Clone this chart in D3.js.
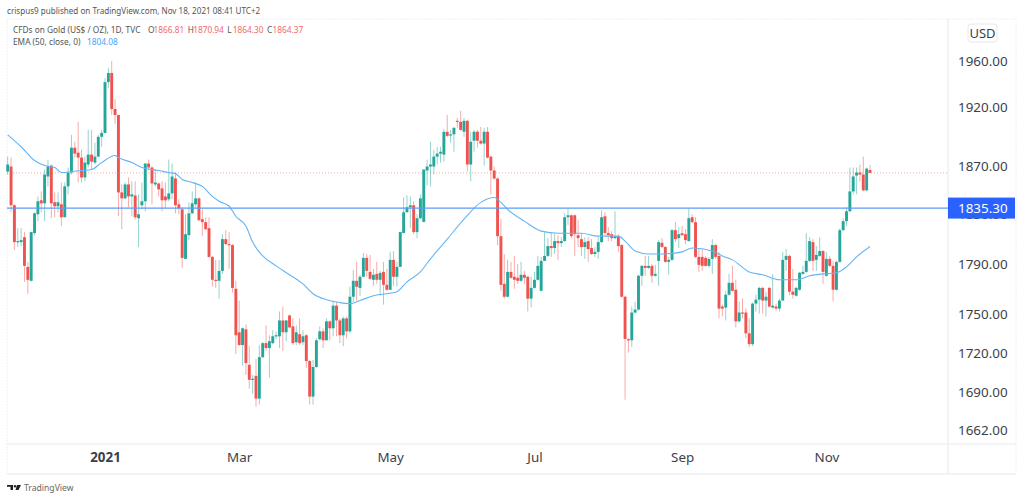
<!DOCTYPE html>
<html>
<head>
<meta charset="utf-8">
<style>
  body { margin: 0; background: #fff; }
  text { font-family: "Noto Sans", sans-serif; }
  .y-axis text, .x-axis text { fill: #3b3f4a; }
</style>
<script src="https://cdnjs.cloudflare.com/ajax/libs/d3/7.8.5/d3.min.js"></script>
</head>
<body>
<div id="container"></div>
<script>
// daily candles, one line = ten bars
var opens = [
  1865.5,1869.7,1837.6,1807.6,1807.6,1811.6,1787.7,1776.6,1814.9,1830.2,
  1841.7,1839.2,1861.4,1870.5,1840.1,1836.8,1838.4,1827.8,1853.2,1864.7,
  1885.5,1881.3,1877.2,1860.6,1871.4,1879.7,1873,1878,1894.7,1898,
  1941.6,1949.5,1918.4,1913.3,1848.2,1843.3,1854.8,1844.9,1845.7,1827,
  1837.6,1840.9,1872.2,1868.9,1854.8,1855.6,1851.5,1844.9,1842.5,1847.4,
  1859.7,1838.4,1834.3,1794.1,1813.2,1831,1838.4,1843.3,1826.2,1823.8,
  1818.9,1795.7,1777.4,1776.6,1784.5,1810,1806,1805.2,1770.3,1736.2,
  1726.3,1738.5,1711.1,1699.7,1702.7,1685.5,1717,1727.8,1724,1727.8,
  1733.1,1733.1,1745.4,1736.2,1749.3,1740.8,1728.5,1734.7,1728.5,1733.9,
  1714,1687,1709.5,1730.8,1736.9,1730,1744.7,1739.3,1757,1745.4,
  1733.9,1747,1736.9,1764,1776.6,1771,1779.8,1794.9,1783.7,1777.4,
  1782.1,1777.4,1783.7,1773.4,1769.5,1793.3,1779.8,1787.7,1815,1831.9,
  1836,1837.6,1815.7,1827,1824,1866.4,1869.7,1869.7,1878,1880.5,
  1879.7,1898.9,1896,1896.8,1908.3,1907.4,1899,1908.3,1871.4,1891.4,
  1899,1891.4,1889,1899,1878,1866.4,1859.7,1812.4,1774.2,1764,
  1783.7,1779.8,1779,1776.6,1781.4,1779.8,1762.5,1771,1777.4,1768.7,
  1792.5,1796.5,1804.4,1802.8,1808.4,1806.8,1808.4,1827.8,1829.4,1829.4,
  1813.2,1810,1803.6,1808.4,1802.8,1798,1799.7,1807.6,1828.6,1815,
  1814,1810.8,1812.4,1805.2,1764,1730.8,1730,1751.6,1753.9,1780.6,
  1788.5,1786.9,1788.5,1780.6,1792.5,1807,1803.6,1791.7,1793.3,1817.3,
  1810.8,1814.8,1814,1808.4,1827.8,1823.8,1795.7,1795.7,1794.9,1788.5,
  1794.1,1805.2,1796.5,1756.3,1755.5,1765.6,1775,1769.5,1744.7,1751.6,
  1751.6,1735.4,1727,1758.6,1761.7,1771,1761,1771,1755.5,1756.3,
  1754.7,1761,1793.3,1796.5,1768,1764.8,1769.5,1782.1,1783.7,1792.5,
  1807.6,1793.3,1796.5,1800.4,1780.6,1794.1,1788.5,1769.5,1791.7,1817.3,
  1824.6,1832.7,1849,1862.2,1864.7,1863,1849.9,1866.81
];
var highs = [
  1878,1877.2,1838.4,1818.9,1818.9,1815.7,1791.7,1816,1831.9,1844.9,
  1849,1867.2,1875.5,1871.4,1848.2,1848.2,1856.4,1856.4,1868.9,1896.4,
  1890.5,1907.4,1883.8,1878,1900.6,1900.6,1889.7,1896.4,1900.6,1945,
  1954,1960,1927,1913.5,1854.8,1856.4,1860.6,1857.3,1857.3,1846.6,
  1856.4,1872.5,1875.5,1869.7,1867.2,1856.4,1857.3,1856.4,1875.5,1872.2,
  1864.7,1842.5,1836,1830.2,1840,1849,1856.4,1844.1,1834.3,1827.8,
  1827.8,1796.5,1793.3,1793.3,1814,1817.3,1815.7,1806,1776.6,1760.9,
  1740,1742.4,1725.5,1703.5,1715.6,1726.3,1728.5,1741.6,1733.9,1737.8,
  1737,1752.4,1756.3,1745.8,1750,1747,1741.6,1747,1737.8,1734.7,
  1714.8,1714.8,1731.6,1740.8,1739.3,1747,1745.4,1760.9,1760.1,1747,
  1748.5,1748.5,1771.9,1785.3,1791.7,1781.4,1798.9,1798,1797.3,1786.1,
  1791.7,1784.5,1791.7,1786.1,1799.7,1800.4,1791.7,1816,1844,1845.7,
  1844.9,1840.9,1830.2,1846.6,1867.5,1875.5,1890.5,1883.8,1886.3,1886.3,
  1901.4,1913.3,1900.6,1903,1910.8,1916.8,1910.8,1909.1,1899,1900.6,
  1900.6,1903,1902.3,1903,1878.9,1869.7,1860.6,1826.2,1798,1793.3,
  1791.7,1796.5,1790,1791.7,1784.5,1780.6,1779.8,1783.7,1796.5,1795.7,
  1815.7,1810.8,1815.7,1814,1813.2,1811.6,1831,1835.1,1830.2,1830.2,
  1825.4,1814.8,1811.6,1811.6,1810,1803.6,1811.6,1833.5,1831.9,1819.7,
  1816.5,1832.7,1814,1806,1764.8,1731.6,1756.3,1760.1,1781.4,1789.3,
  1796.5,1796.5,1790,1789.3,1809.2,1810.8,1804.4,1795.7,1818.1,1823.8,
  1819.7,1820.6,1818.1,1835.1,1830.2,1827.8,1802.8,1802,1796.5,1795.7,
  1810,1806,1799.7,1757.8,1768.7,1782.1,1788.5,1777.4,1760.1,1762.5,
  1754.7,1747,1759.4,1765.6,1771.9,1771.9,1768,1771.9,1782,1758.6,
  1762.5,1799.7,1802,1797.3,1786.1,1771.9,1783.7,1788.5,1814.8,1811.6,
  1810,1804.4,1811.6,1801.2,1799.7,1796.5,1792.5,1792.5,1818.9,1827,
  1836,1868.9,1868.9,1868.9,1871.4,1878,1868.9,1870.94
];
var lows = [
  1863,1831.9,1801.2,1803.6,1804.4,1775.8,1766.4,1776,1813.2,1824.6,
  1831.9,1824.6,1853.2,1827,1827.8,1831.9,1820.6,1827.8,1846.6,1863,
  1877.2,1856.4,1856.4,1857.3,1868.9,1867.2,1871.4,1877.5,1886.3,1897.5,
  1936.5,1913.3,1905.7,1828.6,1818.1,1842.5,1836,1828.6,1826.2,1803.6,
  1834.3,1832.7,1867.2,1838.4,1853.2,1844.9,1832.7,1835.1,1840.9,1842.5,
  1831,1830.2,1786.9,1794,1809.2,1830.7,1836,1824.6,1812.4,1817.3,
  1794.9,1772,1771,1762.5,1782.1,1805.2,1786.1,1767.2,1719.3,1726,
  1710.3,1703.5,1693,1689.2,1679.5,1681,1716.3,1721.7,1701.2,1727,
  1730.8,1724,1721.7,1729.3,1739.3,1726.3,1726.3,1726.3,1726.3,1708.8,
  1681,1681,1708.8,1730,1724,1729.8,1730,1733.1,1733.1,1727.8,
  1725.5,1731.6,1735.4,1760.1,1761,1764.8,1779.5,1779.8,1777.4,1772.6,
  1774.2,1764.8,1757.8,1768.7,1769.3,1772.6,1771.9,1787.5,1814.5,1831.5,
  1818.9,1814,1810.8,1826.2,1823.5,1854,1853,1863,1871.4,1873,
  1873.8,1894.7,1889.7,1882.1,1902.3,1899.8,1894.7,1865.5,1857.3,1882.1,
  1885.5,1888.2,1870.5,1876.3,1846.6,1858.9,1805.2,1768.7,1762.5,1763.3,
  1778.2,1770.3,1774.2,1775.8,1774.2,1752.4,1755.5,1770.3,1776.6,1768.5,
  1792.3,1795.7,1795.7,1798,1793.3,1803.6,1808,1821.4,1810.8,1796.5,
  1803.6,1796.5,1794.1,1791.7,1797.3,1795.7,1794.1,1806.8,1813.2,1808.4,
  1808.4,1810,1799.7,1763.3,1684.7,1720.4,1724.8,1750.8,1753,1772.6,
  1780.6,1786.1,1775,1779.8,1772.6,1803,1791,1781.4,1792.5,1807.6,
  1802.8,1812.4,1806,1808,1823,1794.9,1783.7,1784.5,1787.7,1786.9,
  1782.1,1794.1,1747,1748.5,1745.4,1764.8,1767.9,1740,1743.9,1747,
  1731.6,1724.8,1725.5,1752.4,1750.8,1750.8,1748.5,1755.5,1754.7,1753,
  1752.4,1760.8,1784.5,1765,1762.5,1764,1768.7,1781.4,1783,1791.7,
  1784.5,1784.5,1795.7,1774.2,1779.8,1787.7,1760.1,1768.7,1791,1816.5,
  1820.6,1831.9,1846.6,1846.6,1857.3,1849,1849,1864.3
];
var closes = [
  1871.4,1837.6,1807.6,1808.4,1809.2,1788.5,1777.4,1815.7,1831,1840.9,
  1839.2,1863,1869.7,1839.2,1836.8,1840.1,1827.8,1853.2,1864.7,1885.5,
  1880.5,1877.2,1860.6,1873,1879.7,1873.8,1878,1894.7,1898,1941.6,
  1949.5,1918.4,1913.3,1848.2,1843.3,1854.8,1844.9,1846.6,1827.8,1830.2,
  1840.9,1872.2,1868.9,1855.6,1856.4,1850.7,1841.7,1841.7,1847.4,1861.4,
  1837.6,1835.1,1794.9,1814,1831,1839.2,1843.3,1825.4,1823.8,1818.1,
  1795.7,1777.4,1776.6,1784.5,1810,1806,1805.2,1771,1733.9,1726.3,
  1739.3,1712.5,1699.7,1700.5,1685.5,1717,1727.8,1724,1729.3,1733.1,
  1733.9,1745.4,1736.2,1745.4,1740,1727.8,1736.2,1727.8,1733.1,1714,
  1687,1709.5,1730,1736.9,1730,1744.7,1739.3,1757,1745.4,1733.9,
  1747,1736.9,1764,1776.6,1771.9,1779.8,1794.9,1784.5,1778.2,1781.4,
  1777.4,1782.9,1773.4,1769.5,1793.3,1779.8,1787.7,1815.7,1831.9,1836,
  1837.6,1815.7,1827,1843.3,1867.2,1869.7,1871.4,1878,1880.5,1882.1,
  1898.9,1895.5,1896.8,1902.3,1907.4,1900.6,1908.3,1871.4,1890.5,1899,
  1891.4,1889,1899,1877.2,1866.4,1859.7,1812.4,1773.4,1764,1783.7,
  1779,1777.4,1776.6,1781.4,1779,1762.5,1771,1777.4,1788.5,1792.5,
  1796.5,1804.4,1802.8,1808.4,1806.8,1808.4,1827.8,1829.4,1812.4,1814,
  1810.8,1803.6,1807.6,1802,1798,1799.7,1807.6,1827.8,1815,1813.2,
  1810.8,1812.4,1804.4,1764,1731,1730,1751.6,1753.9,1780.6,1788.5,
  1786.9,1788.5,1780.6,1782.1,1807.6,1803.6,1791.7,1793.3,1817.3,1810,
  1814,1813.2,1809.2,1827,1823.8,1795.7,1789.3,1788.5,1788.5,1794.1,
  1805.2,1795.7,1754.7,1754.7,1765.6,1775,1768.7,1744.7,1751.6,1750.8,
  1735.4,1727,1758.6,1761.7,1771,1761,1764,1756.3,1757,1754.7,
  1761,1793.3,1796.5,1768,1765.6,1771,1783,1783.7,1792.5,1808.4,
  1792.5,1797.3,1800.4,1783.7,1794.1,1788.5,1769.5,1791.7,1817.3,1824.6,
  1832.7,1849,1861.4,1864.7,1863,1849.9,1868,1864.37
];

// EMA line, sampled where it was readable
var emaBars = [0,4,8,11,14,16,19,22,25,28,32,33,37,40,45,48,50,52,55,58,61,63,66,68,71,73,76,80,84,88,91,95,99,102,105,109,116,119,123,126,131,136,141,145,147,149,154,159,164,171,176,182,184,187,191,196,201,204,210,213,216,221,225,230,235,239,243,247,250,253,257];
var emaValues = [1896.4,1886.3,1874.7,1870.5,1868.9,1864.7,1865.5,1866.4,1867.2,1873,1878.9,1877.2,1873,1868.9,1866.4,1864.7,1863.8,1858.9,1856.4,1853.2,1844.9,1840.9,1836.8,1828.6,1820.6,1807.6,1796.5,1788.5,1781.4,1774.2,1766.4,1761.7,1759.4,1758.6,1761,1764.8,1768,1775.8,1783.7,1794.1,1810,1826.2,1840,1844,1840,1834.3,1824.6,1816.5,1814.8,1814.8,1812.4,1812.4,1808.4,1800.4,1798,1798,1799.7,1802.8,1800.4,1796.5,1793.3,1783.7,1781.4,1777.4,1777.4,1780.6,1782.1,1783,1787.7,1795.7,1804.08];

var priceTicks = [1960, 1920, 1870, 1830, 1790, 1750, 1720, 1690, 1662];
var timeTickBars = [29, 69, 114, 157, 201, 244];
var timeTickLabels = ["2021", "Mar", "May", "Jul", "Sep", "Nov"];
var lineLevel = 1835.30;
var lastClose = 1864.37;

var legendNames = ["O", "H", "L", "C"];
var legendValues = [1866.81, 1870.94, 1864.30, 1864.37];

var frame = {left: 7, top: 19, right: 948, bottom: 444, outerRight: 1016, outerBottom: 474};
var upColor = "#26a69a", downColor = "#ef5350", emaColor = "#64b5f6";
var captionSize = "8.3px", captionColor = "#555";

var svg = d3.select("#container")
    .append("svg")
    .attr("width", 1024)
    .attr("height", 500)
    .style("display", "block");

var x = d3.scaleLinear().domain([0, opens.length - 1]).range([7.7, 870]);
var y = d3.scaleLog().domain([1960, 1662]).range([61, 430]);

// frame
var frameColor = "#eef0f5";
svg.append("rect")
    .attr("x", frame.left).attr("y", frame.top)
    .attr("width", frame.outerRight - frame.left)
    .attr("height", frame.outerBottom - frame.top)
    .attr("fill", "none").attr("stroke", frameColor).attr("stroke-dasharray", "2,1");
[[frame.right, frame.top, frame.right, frame.outerBottom],
 [frame.left, frame.bottom, frame.outerRight, frame.bottom],
 [frame.left, frame.outerBottom, frame.outerRight, frame.outerBottom]].forEach(function(l) {
    svg.append("line")
        .attr("x1", l[0]).attr("y1", l[1]).attr("x2", l[2]).attr("y2", l[3])
        .attr("stroke", frameColor).attr("stroke-width", 1.5);
});

// last price dotted line
svg.append("line")
    .attr("x1", frame.left).attr("x2", frame.right)
    .attr("y1", y(lastClose)).attr("y2", y(lastClose))
    .attr("stroke", "#ef5350").attr("stroke-opacity", 0.5)
    .attr("stroke-dasharray", "1,2");

// candles
var bars = svg.append("g").selectAll("g")
    .data(d3.range(opens.length))
    .enter()
    .append("g");

bars.append("line")
    .attr("x1", function(i) { return x(i); })
    .attr("x2", function(i) { return x(i); })
    .attr("y1", function(i) { return y(highs[i]); })
    .attr("y2", function(i) { return y(lows[i]); })
    .attr("stroke", function(i) { return closes[i] >= opens[i] ? upColor : downColor; })
    .attr("stroke-opacity", 0.55)
    .attr("stroke-width", 0.9);

bars.append("rect")
    .attr("x", function(i) { return x(i) - 1.45; })
    .attr("width", 2.9)
    .attr("y", function(i) { return y(Math.max(opens[i], closes[i])); })
    .attr("height", function(i) { return Math.max(1.2, Math.abs(y(opens[i]) - y(closes[i]))); })
    .attr("fill", function(i) { return closes[i] >= opens[i] ? upColor : downColor; });

// EMA
var emaLine = d3.line()
    .x(function(d) { return x(d); })
    .y(function(d, i) { return y(emaValues[i]); })
    .curve(d3.curveMonotoneX);

svg.append("path")
    .attr("d", emaLine(emaBars))
    .attr("fill", "none")
    .attr("stroke", emaColor)
    .attr("stroke-width", 1.1);

// horizontal level
svg.append("line")
    .attr("x1", frame.left).attr("x2", frame.right)
    .attr("y1", y(lineLevel)).attr("y2", y(lineLevel))
    .attr("stroke", "#5b9cf6").attr("stroke-width", 1.2);

// axes
var yAxis = d3.axisRight(y)
    .tickValues(priceTicks)
    .tickSize(0)
    .tickPadding(0)
    .tickFormat(d3.format(".2f"));

svg.append("g")
    .attr("class", "y-axis")
    .attr("transform", "translate(958,0)")
    .call(yAxis)
    .call(function(g) { g.select(".domain").remove(); })
    .selectAll("text")
    .style("font-size", "13.4px");

var xAxis = d3.axisBottom(x)
    .tickValues(timeTickBars)
    .tickSize(0)
    .tickPadding(0)
    .tickFormat(function(d, i) { return timeTickLabels[i]; });

svg.append("g")
    .attr("class", "x-axis")
    .attr("transform", "translate(0,452)")
    .call(xAxis)
    .call(function(g) { g.select(".domain").remove(); })
    .selectAll("text")
    .style("font-size", "13.4px")
    .style("font-weight", function(d, i) { return i === 0 ? "700" : "400"; });

// level label on the axis
svg.append("rect")
    .attr("x", frame.right).attr("y", y(lineLevel) - 10.5)
    .attr("width", 67).attr("height", 21)
    .attr("fill", "#2962ff");
svg.append("text")
    .attr("x", 958).attr("y", y(lineLevel) + 4.7)
    .attr("fill", "#fff")
    .style("font-size", "13.4px")
    .text(d3.format(".2f")(lineLevel));

// currency button
svg.append("rect")
    .attr("x", 968).attr("y", 24).attr("width", 29).attr("height", 18).attr("rx", 3)
    .attr("fill", "#fff").attr("stroke", "#e6e8ee");
svg.append("text")
    .attr("x", 982.5).attr("y", 37.5)
    .attr("text-anchor", "middle")
    .attr("fill", "#3b3f4a")
    .style("font-size", "13px")
    .text("USD");

// captions
svg.append("text")
    .attr("x", 7).attr("y", 14)
    .attr("fill", captionColor)
    .style("font-size", "8.1px")
    .text("crispus9 published on TradingView.com, Nov 18, 2021 08:41 UTC+2");

svg.append("text")
    .attr("x", 13).attr("y", 33)
    .attr("fill", captionColor)
    .style("font-size", captionSize)
    .text("CFDs on Gold (US$ / OZ), 1D, TVC");

var legendX = d3.scaleLinear().domain([0, 3]).range([148, 267]);

legendNames.forEach(function(n, i) {
    svg.append("text")
        .attr("x", legendX(i)).attr("y", 33)
        .attr("fill", captionColor)
        .style("font-size", captionSize)
        .text(n);
    svg.append("text")
        .attr("x", legendX(i) + 5.5).attr("y", 33)
        .attr("fill", "#f0696a")
        .style("font-size", captionSize)
        .text(legendValues[i].toFixed(2));
});

svg.append("text")
    .attr("x", 13).attr("y", 45)
    .attr("fill", captionColor)
    .style("font-size", captionSize)
    .text("EMA (50, close, 0)");
svg.append("text")
    .attr("x", 87).attr("y", 45)
    .attr("fill", "#42a5f5")
    .style("font-size", captionSize)
    .text("1804.08");

// logo and wordmark
var logo = svg.append("g").attr("fill", "#222").attr("transform", "translate(7,485)");
logo.append("path").attr("d", "M0,0H6V5H3.5V1.8H0Z");
logo.append("circle").attr("cx", 8).attr("cy", 1.2).attr("r", 1.2);
logo.append("path").attr("d", "M10,0H14L11.5,5H8.5Z");
svg.append("text")
    .attr("x", 24).attr("y", 491)
    .attr("fill", "#666")
    .style("font-size", "8.6px")
    .text("TradingView");
</script>
</body>
</html>
